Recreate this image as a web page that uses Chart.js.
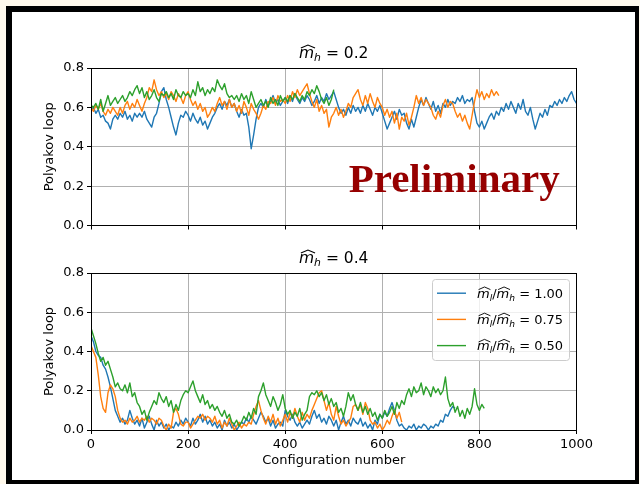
<!DOCTYPE html>
<html>
<head>
<meta charset="utf-8">
<title>Polyakov loop histories</title>
<script src="https://cdn.jsdelivr.net/npm/chart.js@4.4.1/dist/chart.umd.min.js"></script>
<style>
  html, body { margin: 0; padding: 0; }
  body { width: 640px; height: 484px; overflow: hidden; position: relative; background: #fff9ec; }
  #frame {
    position: absolute; left: 6px; top: 6px; width: 633px; height: 478px;
    box-sizing: border-box; border: solid #000; border-width: 6px 4px 4px 6px; background: #fff;
  }
  canvas { position: absolute; left: 0; }
  #topChart { top: 0; }
  #bottomChart { top: 240px; }
</style>
</head>
<body>
<div id="frame"></div>
<canvas id="topChart" width="640" height="240"></canvas>
<canvas id="bottomChart" width="640" height="244"></canvas>
<script>
// ─── Data ────────────────────────────────────────────────────────────────────

const STEP = 5; // configurations between stored measurements

const xTicks = [0, 200, 400, 600, 800, 1000];
const yTicks = [0.0, 0.2, 0.4, 0.6, 0.8];
const heavyMasses = ["0.2", "0.4"];
const ratioLabels = ["1.00", "0.75", "0.50"];

// m_h = 0.2, m_l/m_h = 1.00
const heavy02_r100 = [
  0.58, 0.60, 0.57, 0.59, 0.55, 0.56, 0.53, 0.52, 0.49, 0.54,
  0.56, 0.54, 0.57, 0.55, 0.58, 0.54, 0.56, 0.53, 0.57, 0.55,
  0.57, 0.55, 0.58, 0.54, 0.52, 0.50, 0.55, 0.57, 0.62, 0.68,
  0.70, 0.64, 0.60, 0.55, 0.50, 0.46, 0.52, 0.56, 0.55, 0.58,
  0.56, 0.53, 0.57, 0.54, 0.52, 0.55, 0.51, 0.53, 0.49, 0.52,
  0.55, 0.57, 0.60, 0.62, 0.59, 0.63, 0.61, 0.64, 0.60, 0.62,
  0.58, 0.55, 0.59, 0.56, 0.57, 0.50, 0.39, 0.46, 0.54, 0.60,
  0.62, 0.60, 0.64, 0.61, 0.63, 0.66, 0.62, 0.64, 0.61, 0.63,
  0.65, 0.62, 0.66, 0.63, 0.67, 0.64, 0.62, 0.65, 0.63, 0.66,
  0.64, 0.61, 0.63, 0.66, 0.62, 0.65, 0.63, 0.67, 0.64, 0.66,
  0.68, 0.64, 0.60, 0.57, 0.59, 0.56, 0.60, 0.57, 0.61, 0.58,
  0.60, 0.57, 0.61, 0.58, 0.62, 0.59, 0.56, 0.60, 0.58, 0.61,
  0.57, 0.53, 0.49, 0.52, 0.55, 0.58, 0.54, 0.59, 0.56, 0.57,
  0.52, 0.49, 0.54, 0.50, 0.55, 0.60, 0.64, 0.61, 0.65, 0.62,
  0.59, 0.63, 0.58, 0.61, 0.57, 0.62, 0.60, 0.64, 0.61, 0.63,
  0.62, 0.65, 0.63, 0.66, 0.62, 0.64, 0.63, 0.65, 0.58, 0.52,
  0.50, 0.53, 0.49, 0.52, 0.55, 0.57, 0.54, 0.58, 0.56, 0.60,
  0.58, 0.62, 0.59, 0.63, 0.60, 0.57, 0.62, 0.59, 0.64, 0.58,
  0.56, 0.60, 0.54, 0.49, 0.53, 0.57, 0.55, 0.59, 0.56, 0.61,
  0.60, 0.63, 0.61, 0.64, 0.62, 0.65, 0.63, 0.66, 0.68, 0.64,
  0.62
];

// m_h = 0.2, m_l/m_h = 0.75
const heavy02_r075 = [
  0.60, 0.58, 0.61, 0.59, 0.62, 0.58, 0.56, 0.59, 0.57, 0.60,
  0.58, 0.56, 0.60, 0.57, 0.61, 0.63, 0.59, 0.62, 0.60, 0.64,
  0.61, 0.58, 0.62, 0.65, 0.70, 0.68, 0.74, 0.69, 0.66, 0.68,
  0.65, 0.67, 0.64, 0.68, 0.66, 0.63, 0.67, 0.65, 0.62, 0.66,
  0.68, 0.64, 0.61, 0.63, 0.59, 0.62, 0.58, 0.60, 0.55, 0.57,
  0.60, 0.58, 0.62, 0.65, 0.61, 0.63, 0.59, 0.64, 0.60, 0.62,
  0.58, 0.61, 0.57, 0.63, 0.60, 0.56, 0.62, 0.59, 0.57, 0.54,
  0.57, 0.61, 0.59, 0.63, 0.62, 0.65, 0.61, 0.66, 0.63, 0.64,
  0.62, 0.66, 0.63, 0.68, 0.65, 0.69, 0.66, 0.68, 0.70, 0.72,
  0.67, 0.63, 0.60, 0.64, 0.58, 0.61, 0.57, 0.59, 0.50, 0.55,
  0.57, 0.60, 0.56, 0.59, 0.55, 0.58, 0.62, 0.60, 0.65, 0.67,
  0.69, 0.64, 0.61, 0.66, 0.62, 0.67, 0.63, 0.60, 0.65, 0.62,
  0.60, 0.56, 0.59, 0.55, 0.58, 0.52, 0.57, 0.49, 0.55, 0.53,
  0.57, 0.51, 0.55, 0.60, 0.66, 0.62, 0.65, 0.61, 0.64, 0.62,
  0.60, 0.56, 0.54, 0.58, 0.55, 0.61, 0.64, 0.60, 0.63, 0.62,
  0.58, 0.55, 0.57, 0.53, 0.56, 0.52, 0.49, 0.56, 0.63, 0.69,
  0.65, 0.68, 0.64, 0.67, 0.65, 0.69, 0.66, 0.68, 0.66
];

// m_h = 0.2, m_l/m_h = 0.50
const heavy02_r050 = [
  0.61, 0.60, 0.62, 0.59, 0.64, 0.58, 0.62, 0.66, 0.61, 0.63,
  0.65, 0.62, 0.64, 0.66, 0.63, 0.65, 0.68, 0.66, 0.69, 0.71,
  0.67, 0.70, 0.65, 0.68, 0.64, 0.66, 0.69, 0.65, 0.63, 0.67,
  0.66, 0.68, 0.65, 0.67, 0.64, 0.69, 0.66, 0.65, 0.68, 0.66,
  0.67, 0.65, 0.69, 0.66, 0.73, 0.68, 0.70, 0.66, 0.69, 0.67,
  0.70, 0.68, 0.74, 0.71, 0.69, 0.72, 0.67, 0.65, 0.66, 0.64,
  0.66, 0.63, 0.67, 0.64, 0.66, 0.62, 0.68, 0.64, 0.60, 0.62,
  0.64, 0.61, 0.63, 0.60, 0.65, 0.62, 0.64, 0.61, 0.66, 0.63,
  0.65, 0.63, 0.66, 0.64, 0.67, 0.65, 0.63, 0.66, 0.64, 0.68,
  0.66, 0.69, 0.67, 0.71, 0.68, 0.64, 0.62, 0.65, 0.61, 0.64,
  0.69
];

// m_h = 0.4, m_l/m_h = 1.00
const heavy04_r100 = [
  0.48, 0.45, 0.40, 0.38, 0.37, 0.33, 0.31, 0.27, 0.22, 0.16,
  0.10, 0.07, 0.04, 0.06, 0.03, 0.05, 0.10, 0.06, 0.03, 0.05,
  0.02, 0.06, 0.01, 0.04, 0.07, 0.03, 0.00, 0.05, 0.02, 0.04,
  0.01, 0.03, 0.00, 0.02, 0.01, 0.04, 0.02, 0.05, 0.03, 0.06,
  0.04, 0.02, 0.06, 0.03, 0.05, 0.08, 0.04, 0.07, 0.03, 0.05,
  0.02, 0.04, 0.01, 0.03, 0.00, 0.05, 0.02, 0.04, 0.01, 0.03,
  0.00, 0.02, 0.04, 0.03, 0.06, 0.04, 0.07, 0.05, 0.03, 0.06,
  0.09, 0.07, 0.04, 0.06, 0.02, 0.05, 0.01, 0.03, 0.04, 0.02,
  0.10, 0.07, 0.05, 0.08, 0.04, 0.02, 0.04, 0.01, 0.03, 0.05,
  0.03, 0.07, 0.10, 0.06, 0.08, 0.04, 0.06, 0.03, 0.07, 0.05,
  0.02, 0.05, 0.00, 0.04, 0.07, 0.03, 0.05, 0.02, 0.06, 0.04,
  0.03, 0.06, 0.02, 0.04, 0.01, 0.03, 0.00, 0.05, 0.03, 0.08,
  0.06, 0.09, 0.07, 0.11, 0.14, 0.10, 0.05, 0.02, 0.03, 0.01,
  0.00, 0.02, 0.01, 0.03, 0.00, 0.02, 0.01, 0.03, 0.02, 0.00,
  0.02, 0.01, 0.03, 0.02, 0.05, 0.04, 0.08, 0.07, 0.10, 0.12,
  0.11
];

// m_h = 0.4, m_l/m_h = 0.75
const heavy04_r075 = [
  0.43, 0.40, 0.37, 0.28, 0.17, 0.11, 0.09, 0.19, 0.23, 0.21,
  0.17, 0.10, 0.06, 0.04, 0.05, 0.03, 0.06, 0.04, 0.05, 0.07,
  0.04, 0.06, 0.05, 0.07, 0.04, 0.06, 0.05, 0.03, 0.06, 0.05,
  0.02, 0.00, 0.03, 0.01, 0.09, 0.11, 0.08, 0.03, 0.02, 0.04,
  0.04, 0.01, 0.03, 0.05, 0.07, 0.06, 0.08, 0.05, 0.07, 0.06,
  0.04, 0.07, 0.03, 0.05, 0.01, 0.04, 0.02, 0.06, 0.03, 0.00,
  0.02, 0.04, 0.01, 0.03, 0.02, 0.04, 0.03, 0.08, 0.12, 0.15,
  0.10, 0.06, 0.03, 0.07, 0.04, 0.08, 0.03, 0.06, 0.02, 0.05,
  0.08, 0.04, 0.09, 0.06, 0.11, 0.07, 0.04, 0.09, 0.05, 0.08,
  0.06, 0.10, 0.13, 0.16, 0.19, 0.20, 0.15, 0.10, 0.14, 0.08,
  0.05, 0.12, 0.07, 0.03, 0.05, 0.02, 0.04, 0.06, 0.12, 0.13,
  0.10, 0.13, 0.08, 0.14, 0.11, 0.05, 0.03, 0.04, 0.01, 0.03,
  0.00, 0.02, 0.05, 0.03, 0.07, 0.10, 0.06, 0.09, 0.04
];

// m_h = 0.4, m_l/m_h = 0.50
const heavy04_r050 = [
  0.52, 0.48, 0.44, 0.39, 0.35, 0.37, 0.33, 0.35, 0.31, 0.27,
  0.22, 0.24, 0.21, 0.20, 0.23, 0.19, 0.24, 0.17, 0.19, 0.14,
  0.12, 0.08, 0.10, 0.05, 0.09, 0.12, 0.15, 0.13, 0.19, 0.16,
  0.14, 0.17, 0.12, 0.15, 0.09, 0.13, 0.10, 0.15, 0.18, 0.20,
  0.19, 0.22, 0.25, 0.20, 0.17, 0.14, 0.18, 0.13, 0.15, 0.11,
  0.13, 0.10, 0.12, 0.09, 0.07, 0.10, 0.06, 0.08, 0.04, 0.03,
  0.05, 0.02, 0.04, 0.07, 0.05, 0.09, 0.06, 0.11, 0.08, 0.17,
  0.20, 0.24, 0.18, 0.15, 0.12, 0.17, 0.14, 0.10, 0.13, 0.18,
  0.11, 0.08, 0.10, 0.06, 0.09, 0.07, 0.11, 0.05, 0.08, 0.10,
  0.17, 0.19, 0.18, 0.20, 0.17, 0.19, 0.15, 0.18, 0.13, 0.16,
  0.12, 0.14, 0.09, 0.11, 0.07, 0.12, 0.19, 0.15, 0.18, 0.13,
  0.10, 0.14, 0.09, 0.12, 0.08, 0.11, 0.07, 0.09, 0.05, 0.08,
  0.06, 0.10, 0.07, 0.09, 0.12, 0.08, 0.14, 0.11, 0.15, 0.13,
  0.18, 0.21, 0.17, 0.22, 0.19, 0.20, 0.24, 0.18, 0.22, 0.20,
  0.17, 0.22, 0.19, 0.21, 0.18, 0.20, 0.27, 0.16, 0.12, 0.14,
  0.09, 0.12, 0.07, 0.10, 0.06, 0.11, 0.08, 0.12, 0.21, 0.13,
  0.10, 0.13, 0.11
];

const COLORS = ["#1f77b4", "#ff7f0e", "#2ca02c"];
const GRID = "#b0b0b0";
const FONT = "'DejaVu Sans', 'Noto Sans', sans-serif";

Chart.defaults.font.family = FONT;
Chart.defaults.font.size = 13;
Chart.defaults.color = "#000";

// ─── Math-style text (italic m with wide hat, subscripts) ───────────────────

function drawMath(ctx, parts, x, y, size, align) {
  const runs = parts.map(([text, kind]) => {
    const italic = kind !== "rm";
    const sub = kind === "sub";
    const s = sub ? size * 0.7 : size;
    const font = (italic ? "oblique " : "") + s + "px " + FONT;
    ctx.font = font;
    return { text, font, sub, hat: kind === "hat", w: ctx.measureText(text).width };
  });
  const total = runs.reduce((acc, r) => acc + r.w, 0);
  let cx = align === "center" ? x - total / 2 : x;

  ctx.textAlign = "left";
  ctx.textBaseline = "alphabetic";
  for (const r of runs) {
    ctx.font = r.font;
    ctx.fillText(r.text, cx, y + (r.sub ? size * 0.22 : 0));
    if (r.hat) {
      const x0 = cx + size * 0.12, x1 = cx + r.w + size * 0.06;
      ctx.beginPath();
      ctx.moveTo(x0, y - size * 0.64);
      ctx.lineTo((x0 + x1) / 2, y - size * 0.84);
      ctx.lineTo(x1, y - size * 0.64);
      ctx.lineWidth = size * 0.07;
      ctx.strokeStyle = ctx.fillStyle;
      ctx.stroke();
    }
    cx += r.w;
  }
}

function ratioParts(ratio) {
  return [["m", "hat"], ["l", "sub"], ["/", "rm"], ["m", "hat"], ["h", "sub"], [" = " + ratio, "rm"]];
}

// ─── Panel decorations: frame, title, legend, watermark ─────────────────────

const align = p => Math.round(p - 0.5) + 0.5;

const panelPlugin = {
  id: "panel",
  afterDatasetsDraw(chart, args, opts) {
    const { ctx, chartArea: a } = chart;
    ctx.save();

    // axes frame (all four spines)
    ctx.strokeStyle = "#000";
    ctx.lineWidth = 1;
    ctx.strokeRect(align(a.left), align(a.top), align(a.right) - align(a.left), align(a.bottom) - align(a.top));

    // panel title
    ctx.fillStyle = "#000";
    drawMath(ctx, [["m", "hat"], ["h", "sub"], [" = " + opts.mass, "rm"]],
      (a.left + a.right) / 2, a.top - 10, 15.5, "center");

    if (opts.watermark) {
      ctx.font = "bold 41px 'Liberation Serif', 'DejaVu Serif', serif";
      ctx.fillStyle = "#960000";
      ctx.textAlign = "center";
      ctx.textBaseline = "alphabetic";
      ctx.fillText(opts.watermark, a.left + 0.748 * (a.right - a.left), a.top + 0.788 * (a.bottom - a.top));
    }

    if (opts.legend) drawLegend(chart);
    ctx.restore();
  }
};

function drawLegend(chart) {
  const { ctx, chartArea: a } = chart;
  const w = 137, h = 81;
  const x = a.right - 7.5 - w, y = align(a.top + 6);

  ctx.beginPath();
  ctx.roundRect(align(x), y, w, h, 3);
  ctx.fillStyle = "rgba(255,255,255,0.8)";
  ctx.fill();
  ctx.strokeStyle = "#cccccc";
  ctx.lineWidth = 1;
  ctx.stroke();

  chart.data.datasets.forEach((ds, i) => {
    const rowY = y + 13.7 + i * 26.2;
    ctx.strokeStyle = ds.borderColor;
    ctx.lineWidth = 1.4;
    ctx.beginPath();
    ctx.moveTo(x + 5, rowY);
    ctx.lineTo(x + 34, rowY);
    ctx.stroke();
    ctx.fillStyle = "#000";
    drawMath(ctx, ratioParts(ratioLabels[i]), x + 45, rowY + 4.7, 13, "left");
  });
}

// ─── Charts ──────────────────────────────────────────────────────────────────

function buildPanel(canvasId, series, cfg) {
  const el = document.getElementById(canvasId);
  if (!el) return null;

  return new Chart(el, {
    type: "line",
    data: {
      datasets: series.map((values, i) => ({
        label: "m_l/m_h = " + ratioLabels[i],
        data: values.map((v, k) => ({ x: k * STEP, y: v })),
        borderColor: COLORS[i],
        borderWidth: 1.4,
        borderJoinStyle: "round",
        pointRadius: 0,
        tension: 0,
        fill: false,
        order: series.length - 1 - i
      }))
    },
    options: {
      responsive: false,
      animation: false,
      events: [],
      layout: { padding: { left: 0, right: 63.5, top: cfg.top, bottom: 0 } },
      plugins: {
        legend: { display: false },
        tooltip: { enabled: false },
        panel: { mass: cfg.mass, legend: cfg.legend, watermark: cfg.watermark }
      },
      scales: {
        x: {
          type: "linear",
          min: 0,
          max: 1000,
          afterBuildTicks: axis => { axis.ticks = xTicks.map(value => ({ value })); },
          afterFit: axis => { axis.height = cfg.xHeight; },
          grid: { color: GRID, lineWidth: 1, tickColor: "#000", tickLength: 4 },
          border: { display: false },
          ticks: {
            padding: 3,
            maxRotation: 0,
            autoSkip: false,
            callback: cfg.showX ? (v => String(v)) : (() => "")
          },
          title: {
            display: cfg.showX,
            text: "Configuration number",
            font: { size: 13, lineHeight: 1.2 },
            padding: { top: 0, bottom: 15.2 }
          }
        },
        y: {
          min: 0,
          max: 0.8,
          afterBuildTicks: axis => { axis.ticks = yTicks.map(value => ({ value })); },
          afterFit: axis => { axis.width = 91; },
          grid: { color: GRID, lineWidth: 1, tickColor: "#000", tickLength: 4 },
          border: { display: false },
          ticks: { padding: 3, autoSkip: false, callback: v => v.toFixed(1) },
          title: {
            display: true,
            text: "Polyakov loop",
            font: { size: 13, lineHeight: 1.2 },
            padding: { top: 42, bottom: 0 }
          }
        }
      }
    },
    plugins: [panelPlugin]
  });
}

document.addEventListener("DOMContentLoaded", () => {
  buildPanel("topChart", [heavy02_r100, heavy02_r075, heavy02_r050], {
    mass: heavyMasses[0], top: 68, xHeight: 14.5, showX: false, legend: false, watermark: "Preliminary"
  });
  buildPanel("bottomChart", [heavy04_r100, heavy04_r075, heavy04_r050], {
    mass: heavyMasses[1], top: 33, xHeight: 54, showX: true, legend: true, watermark: null
  });
});
</script>
</body>
</html>
